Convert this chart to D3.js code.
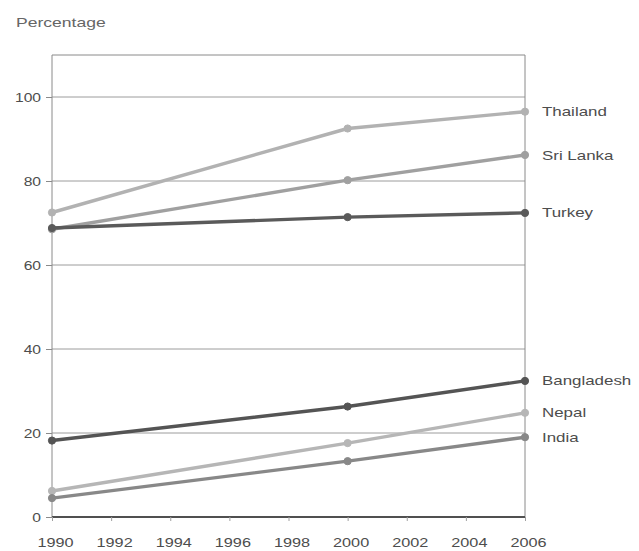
<!DOCTYPE html>
<html>
<head>
<meta charset="utf-8">
<script src="https://cdn.jsdelivr.net/npm/d3@7"></script>
<style>
  html, body { margin: 0; padding: 0; background: #fff; }
  svg { display: block; font-family: "Liberation Sans", Arial, sans-serif; }
</style>
</head>
<body>
<svg id="chart" width="639" height="551"></svg>
<script>
// Years sampled for each country
const years = [1990, 2000, 2006];

// Percentages per country (1990, 2000, 2006)
const thailand   = [72.5, 92.5, 96.5];
const sriLanka   = [68.5, 80.2, 86.2];
const turkey     = [68.8, 71.4, 72.4];
const bangladesh = [18.2, 26.3, 32.4];
const nepal      = [6.2, 17.6, 24.8];
const india      = [4.5, 13.3, 19.0];

const countries  = ["Thailand", "Sri Lanka", "Turkey", "Bangladesh", "Nepal", "India"];
const seriesVals = [thailand, sriLanka, turkey, bangladesh, nepal, india];
const colors     = ["#b2b2b2", "#a0a0a0", "#5a5a5a", "#545454", "#b6b6b6", "#888888"];

const xTicks = [1990, 1992, 1994, 1996, 1998, 2000, 2002, 2004, 2006];
const yTicks = [0, 20, 40, 60, 80, 100];

const svg = d3.select("#chart");
const plotL = 52, plotR = 525, plotT = 55, plotB = 517;
const textColor = "#4d4d4d";

const x = d3.scaleLinear().domain([1990, 2006]).range([plotL, plotR]);
const y = d3.scaleLinear().domain([0, 110]).range([plotB, plotT]);

// Widen glyphs horizontally (the typeface is an extended grotesque)
function widen(sel, k) {
  sel.each(function () {
    const w = this.getComputedTextLength();
    d3.select(this).attr("textLength", w * k).attr("lengthAdjust", "spacingAndGlyphs");
  });
}

// Gridlines
svg.append("g")
  .selectAll("line")
  .data(yTicks.filter(d => d > 0))
  .join("line")
  .attr("x1", plotL).attr("x2", plotR)
  .attr("y1", d => y(d)).attr("y2", d => y(d))
  .attr("stroke", "#9c9c9c").attr("stroke-width", 1);

// Frame: top and right edges
svg.append("line").attr("x1", plotL).attr("x2", plotR).attr("y1", plotT).attr("y2", plotT)
  .attr("stroke", "#8a8a8a").attr("stroke-width", 1);
svg.append("line").attr("x1", plotR).attr("x2", plotR).attr("y1", plotT).attr("y2", plotB)
  .attr("stroke", "#8a8a8a").attr("stroke-width", 1);

// Y axis
const yAxis = svg.append("g")
  .attr("transform", `translate(${plotL},0)`)
  .call(d3.axisLeft(y).tickValues(yTicks).tickSize(6).tickPadding(5));
yAxis.select(".domain").attr("stroke", "#8a8a8a").attr("d", `M0,${plotT}V${plotB}`);
yAxis.selectAll(".tick line").attr("stroke", "#8a8a8a");
yAxis.selectAll(".tick text").attr("fill", textColor).attr("font-size", 12.5).call(widen, 1.25);

// X axis
const xAxis = svg.append("g")
  .attr("transform", `translate(0,${plotB})`)
  .call(d3.axisBottom(x).tickValues(xTicks).tickFormat(d3.format("d")).tickSize(4).tickPadding(17));
xAxis.select(".domain").attr("stroke", "#505050").attr("stroke-width", 2).attr("d", `M${plotL},0H${plotR}`);
xAxis.selectAll(".tick line").attr("stroke", "#a0a0a0");
xAxis.selectAll(".tick text").attr("fill", textColor).attr("font-size", 12.5)
  .attr("dx", 3).call(widen, 1.3);

// Y axis title
svg.append("text")
  .attr("x", 16).attr("y", 27)
  .attr("fill", "#666").attr("font-size", 13)
  .text("Percentage")
  .call(widen, 1.35);

// Lines
const line = d3.line().x((d, i) => x(years[i])).y(d => y(d));

const series = svg.append("g")
  .selectAll("g")
  .data(countries.map((c, i) => ({ name: c, values: seriesVals[i], color: colors[i] })))
  .join("g");

series.append("path")
  .attr("d", d => line(d.values))
  .attr("fill", "none")
  .attr("stroke", d => d.color)
  .attr("stroke-width", 3.4)
  .attr("stroke-linejoin", "round");

series.selectAll("circle")
  .data(d => d.values.map((v, i) => ({ v, i, color: d.color })))
  .join("circle")
  .attr("cx", d => x(years[d.i]))
  .attr("cy", d => y(d.v))
  .attr("r", 3.6)
  .attr("fill", d => d.color)
  .attr("stroke", d => d.color);

// End labels
series.append("text")
  .attr("x", plotR + 17)
  .attr("y", d => y(d.values[d.values.length - 1]))
  .attr("dy", "0.35em")
  .attr("fill", textColor)
  .attr("font-size", 13)
  .text(d => d.name)
  .call(widen, 1.3);
</script>
</body>
</html>
